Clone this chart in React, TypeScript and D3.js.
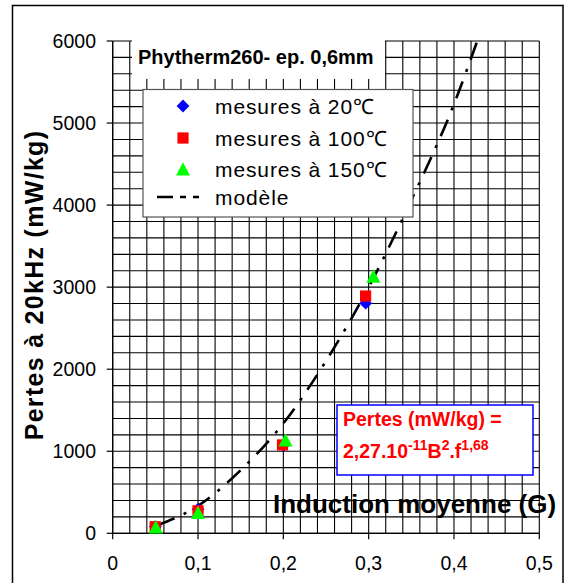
import React, { useEffect, useRef } from "react";
import * as d3 from "d3";

// axis ticks / labels
const inductionTicks = [0, 0.1, 0.2, 0.3, 0.4, 0.5];
const inductionLabels = ["0", "0,1", "0,2", "0,3", "0,4", "0,5"];
const pertesTicks = [0, 1000, 2000, 3000, 4000, 5000, 6000];

// measured points (B in T, losses in mW/kg)
const mesures20 = [
  { b: 0.05, p: 82 },
  { b: 0.1, p: 293 },
  { b: 0.2, p: 1070 },
  { b: 0.2965, p: 2805 },
];
const mesures100 = [
  { b: 0.0498, p: 80 },
  { b: 0.1, p: 274 },
  { b: 0.199, p: 1077 },
  { b: 0.2964, p: 2892 },
];
const mesures150 = [
  { b: 0.0505, p: 78 },
  { b: 0.1, p: 254 },
  { b: 0.2026, p: 1138 },
  { b: 0.3055, p: 3134 },
];

// model curve
const modeleB = [0.053, 0.1, 0.15, 0.2, 0.25, 0.3, 0.35, 0.4, 0.43];
const modeleP = [100, 335, 770, 1340, 2100, 3000, 4060, 5230, 6080];

const legendLabels = ["mesures à 20℃", "mesures à 100℃", "mesures à 150℃", "modèle"];

const FONT = "'Liberation Sans', Arial, Helvetica, sans-serif";

const diamondPath = "M0,-6.4L6.4,0L0,6.4L-6.4,0Z";
const squarePath = "M-5.6,-5.6H5.6V5.6H-5.6Z";
const trianglePath = "M0,-6.8L7,6.6L-7,6.6Z";

const App = () => {
  const ref = useRef<SVGSVGElement>(null);

  useEffect(() => {
    if (!ref.current) return;
    const svg = d3.select(ref.current);
    svg.selectAll("*").remove();

    const x = d3.scaleLinear().domain([0, 0.5]).range([112.7, 539.3]);
    const y = d3.scaleLinear().domain([0, 6000]).range([533.3, 41]);

    svg.append("rect").attr("width", 569).attr("height", 583).attr("fill", "#fff");
    // outer frame
    svg
      .append("rect")
      .attr("x", 12.5)
      .attr("y", 5.5)
      .attr("width", 550.5)
      .attr("height", 600)
      .attr("fill", "none")
      .attr("stroke", "#000")
      .attr("stroke-width", 1.5);

    // grid
    const grid = svg.append("g").attr("stroke", "#000").attr("stroke-width", 1.1);
    x.ticks(25).forEach((t) => {
      grid.append("line").attr("x1", x(t)).attr("x2", x(t)).attr("y1", y(6000)).attr("y2", y(0));
    });
    y.ticks(30).forEach((t) => {
      grid.append("line").attr("x1", x(0)).attr("x2", x(0.5)).attr("y1", y(t)).attr("y2", y(t));
    });

    // axes
    const axes = svg.append("g").attr("stroke", "#000").attr("stroke-width", 1.2);
    axes.append("line").attr("x1", x(0)).attr("x2", x(0)).attr("y1", y(6000)).attr("y2", y(0));
    axes.append("line").attr("x1", x(0)).attr("x2", x(0.5)).attr("y1", y(0)).attr("y2", y(0));
    pertesTicks.forEach((t) => {
      axes.append("line").attr("x1", x(0) - 6).attr("x2", x(0)).attr("y1", y(t)).attr("y2", y(t));
    });
    inductionTicks.forEach((t) => {
      axes.append("line").attr("x1", x(t)).attr("x2", x(t)).attr("y1", y(0)).attr("y2", y(0) + 6);
    });

    // tick labels
    svg
      .append("g")
      .selectAll("text")
      .data(pertesTicks)
      .join("text")
      .attr("x", 96)
      .attr("y", (d) => y(d))
      .attr("dy", "0.36em")
      .attr("text-anchor", "end")
      .attr("font-family", FONT)
      .attr("font-size", 19.5)
      .text((d) => String(d));
    svg
      .append("g")
      .selectAll("text")
      .data(inductionTicks)
      .join("text")
      .attr("x", (d) => x(d))
      .attr("y", 569.5)
      .attr("text-anchor", "middle")
      .attr("font-family", FONT)
      .attr("font-size", 19.5)
      .text((d, i) => inductionLabels[i]);

    // model line
    const line = d3
      .line<number>()
      .x((d) => x(d))
      .y((d, i) => y(modeleP[i]))
      .curve(d3.curveMonotoneX);
    svg
      .append("path")
      .datum(modeleB)
      .attr("d", line)
      .attr("fill", "none")
      .attr("stroke", "#000")
      .attr("stroke-width", 2.6)
      .attr("stroke-dasharray", "18 10 3 10");

    // markers
    const drawMarkers = (data: { b: number; p: number }[], path: string, color: string) => {
      svg
        .append("g")
        .selectAll("path")
        .data(data)
        .join("path")
        .attr("transform", (d) => `translate(${x(d.b)},${y(d.p)})`)
        .attr("d", path)
        .attr("fill", color);
    };
    drawMarkers(mesures20, diamondPath, "#0000ff");
    drawMarkers(mesures100, squarePath, "#ff0000");
    drawMarkers(mesures150, trianglePath, "#00ff00");

    // title
    svg.append("rect").attr("x", 132).attr("y", 37).attr("width", 253).attr("height", 42).attr("fill", "#fff");
    svg
      .append("text")
      .attr("x", 138)
      .attr("y", 64)
      .attr("font-family", FONT)
      .attr("font-weight", "bold")
      .attr("font-size", 20)
      .text("Phytherm260- ep. 0,6mm");

    // legend
    const lg = svg.append("g");
    lg.append("rect")
      .attr("x", 143)
      .attr("y", 89.5)
      .attr("width", 270)
      .attr("height", 127.5)
      .attr("fill", "#fff")
      .attr("stroke", "#555")
      .attr("stroke-width", 1.2);
    const rowY = [106, 138, 169, 197];
    const legendPaths = [
      { path: diamondPath, color: "#0000ff" },
      { path: squarePath, color: "#ff0000" },
      { path: trianglePath, color: "#00ff00" },
    ];
    legendPaths.forEach((m, i) => {
      lg.append("path").attr("transform", `translate(183,${rowY[i]})`).attr("d", m.path).attr("fill", m.color);
    });
    lg.append("line")
      .attr("x1", 157)
      .attr("x2", 212)
      .attr("y1", rowY[3])
      .attr("y2", rowY[3])
      .attr("stroke", "#000")
      .attr("stroke-width", 2.6)
      .attr("stroke-dasharray", "16 7 6 7 6");
    lg.selectAll("text")
      .data(legendLabels)
      .join("text")
      .attr("x", 215)
      .attr("y", (d, i) => rowY[i] + 7.5)
      .attr("font-family", FONT)
      .attr("font-size", 21)
      .attr("letter-spacing", 0.9)
      .text((d) => d);

    // formula box
    svg
      .append("rect")
      .attr("x", 337)
      .attr("y", 405)
      .attr("width", 196)
      .attr("height", 70)
      .attr("fill", "#fff")
      .attr("stroke", "#0000ff")
      .attr("stroke-width", 1.5);
    const f = svg
      .append("g")
      .attr("fill", "#ff0000")
      .attr("font-family", FONT)
      .attr("font-weight", "bold");
    f.append("text").attr("x", 343).attr("y", 426).attr("font-size", 19.5).text("Pertes (mW/kg) =");
    const t2 = f.append("text").attr("x", 343).attr("y", 458).attr("font-size", 19.5);
    t2.append("tspan").text("2,27.10");
    t2.append("tspan").attr("dy", -8).attr("font-size", 14).text("-11");
    t2.append("tspan").attr("dy", 8).text("B");
    t2.append("tspan").attr("dy", -8).attr("font-size", 14).text("2");
    t2.append("tspan").attr("dy", 8).text(".f");
    t2.append("tspan").attr("dy", -8).attr("font-size", 14).text("1,68");

    // axis titles
    svg
      .append("text")
      .attr("x", 273)
      .attr("y", 513)
      .attr("font-family", FONT)
      .attr("font-weight", "bold")
      .attr("font-size", 26)
      .text("Induction moyenne (G)");
    svg
      .append("text")
      .attr("transform", "translate(43,285) rotate(-90)")
      .attr("text-anchor", "middle")
      .attr("font-family", FONT)
      .attr("font-weight", "bold")
      .attr("font-size", 25)
      .attr("letter-spacing", 1.3)
      .text("Pertes à 20kHz (mW/kg)");
  }, []);

  return <svg ref={ref} width={569} height={583} style={{ position: "absolute", left: 0, top: 0 }} />;
};

export default App;
